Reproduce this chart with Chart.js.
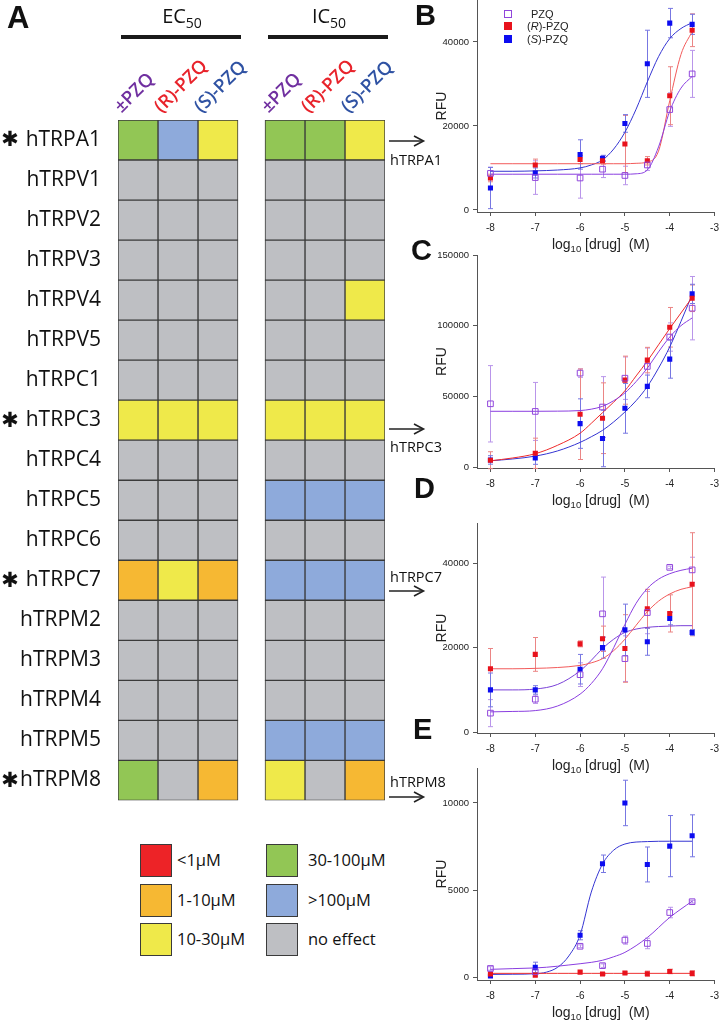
<!DOCTYPE html>
<html><head><meta charset="utf-8">
<script src="https://cdn.jsdelivr.net/npm/chart.js@4.4.1/dist/chart.umd.min.js"></script>
<style>
html,body{margin:0;padding:0;background:#fff;}
body{width:725px;height:1022px;position:relative;overflow:hidden;font-family:"Open Sans",sans-serif;color:#111;}
.abs{position:absolute;white-space:nowrap;}
canvas{position:absolute;}
</style></head><body>
<script>
// ---------- Heatmap data (panel A) ----------
const GENES = ['hTRPA1','hTRPV1','hTRPV2','hTRPV3','hTRPV4','hTRPV5','hTRPC1','hTRPC3','hTRPC4','hTRPC5','hTRPC6','hTRPC7','hTRPM2','hTRPM3','hTRPM4','hTRPM5','hTRPM8'];
const STARRED = ['hTRPA1','hTRPC3','hTRPC7','hTRPM8'];
const LEVELS = ['<1μM','1-10μM','10-30μM','30-100μM','>100μM','no effect'];
const LEVEL_COLORS = ['#ed2327','#f6b833','#efe94a','#92c655','#8eaadb','#bebfc3'];
const GROUPS = ['EC', 'IC'];
const COMPOUNDS = ['±PZQ','(R)-PZQ','(S)-PZQ'];
const COMPOUND_COLORS = ['#7030a0','#e8232b','#2f52a3'];
const N = 5; // "no effect"
const EC_RAC = [3,N,N,N,N,N,N,2,N,N,N,1,N,N,N,N,3];
const EC_R   = [4,N,N,N,N,N,N,2,N,N,N,2,N,N,N,N,N];
const EC_S   = [2,N,N,N,N,N,N,2,N,N,N,1,N,N,N,N,1];
const IC_RAC = [3,N,N,N,N,N,N,2,N,4,N,4,N,N,N,4,2];
const IC_R   = [3,N,N,N,N,N,N,2,N,4,N,4,N,N,N,4,N];
const IC_S   = [2,N,N,N,2,N,N,2,N,4,N,4,N,N,N,4,1];
const ARROW_TARGETS = ['hTRPA1','hTRPC3','hTRPC7','hTRPM8'];

// ---------- Dose-response data (panels B-E) ----------
const DOSES = [-8,-7,-6,-5.5,-5,-4.5,-4,-3.5];
const X_TICKS = [-8,-7,-6,-5,-4,-3];
const CURVE_X = [-8,-7.5,-7,-6.5,-6,-5.75,-5.5,-5.25,-5,-4.75,-4.5,-4.25,-4,-3.75,-3.5];
const E_CURVE_X = [-8,-7.5,-7,-6.75,-6.5,-6.25,-6,-5.75,-5.5,-5.25,-5,-4.5,-4,-3.5];

// B: hTRPA1
const B_PZQ = [8700,7700,7600,9700,8200,10700,23900,32400];
const B_PZQ_ERR = [1500,4000,4800,2000,2200,1300,4000,5600];
const B_R = [7600,10700,12000,11700,15700,11700,27200,42800];
const B_R_ERR = [900,1400,1000,800,6800,1000,6900,3900];
const B_S = [5200,8800,13200,12300,20600,34800,44500,44200];
const B_S_ERR = [4900,1200,3500,700,2100,8000,3500,2400];
const B_PZQ_FIT = [8500,8500,8500,8500,8500,8500,8500,8500,8500,8600,9500,15000,23500,29000,31800];
const B_R_FIT = [11000,11000,11000,11000,11000,11000,11000,11000,11000,11100,11400,14000,26000,37000,42500];
const B_S_FIT = [9200,9200,9300,9500,10000,10700,11900,14500,18500,24000,30500,36500,40800,43200,44600];
const B_Y_TICKS = [0,20000,40000];

// C: hTRPC3
const C_PZQ = [44800,39400,66500,42500,62900,71200,92000,112400];
const C_PZQ_ERR = [27000,20500,3000,21500,15000,13000,10000,22400];
const C_R = [4900,9800,37400,34600,61500,75700,98900,119400];
const C_R_ERR = [6000,10700,32000,25000,17000,9000,14000,9400];
const C_S = [5100,6500,30800,20300,41600,57100,76400,122500];
const C_S_ERR = [3000,4500,17500,20000,17600,8000,13500,6800];
const C_PZQ_FIT = [39500,39500,39500,39600,40000,41000,43000,47000,52500,60500,70000,81500,92000,100000,105500];
const C_R_FIT = [4500,6500,9500,15500,24000,31000,38500,46000,54000,64500,75000,86500,98000,109000,120000];
const C_S_FIT = [4500,5800,7800,11500,17500,21500,26000,32000,39000,47000,57000,70000,85000,103000,122000];
const C_Y_TICKS = [0,50000,100000,150000];

// D: hTRPC7
const D_PZQ = [4500,7800,13600,28000,17400,28300,39000,38400];
const D_PZQ_ERR = [3200,1000,2800,8700,5400,5000,300,3000];
const D_R = [15000,18400,20900,22100,19800,29200,28100,35000];
const D_R_ERR = [4800,4000,700,3000,8000,4600,4400,12200];
const D_S = [10000,10000,14900,20000,24200,21400,26900,23600];
const D_S_ERR = [4000,1000,3500,2500,6100,3200,1500,700];
const D_PZQ_FIT = [4800,4900,5100,6200,9000,11500,15000,20000,25500,30500,34000,36200,37500,38300,38800];
const D_R_FIT = [15000,15000,15100,15300,15800,16400,17400,19300,22000,25300,28500,31000,32700,33800,34400];
const D_S_FIT = [10000,10000,10200,11300,14500,17000,19800,22000,23600,24400,24800,25000,25100,25200,25200];
const D_Y_TICKS = [0,20000,40000];

// E: hTRPM8
const E_PZQ = [530,340,1800,690,2150,1960,3730,4350];
const E_PZQ_ERR = [100,80,80,100,230,300,300,80];
const E_R = [210,150,320,210,270,230,360,250];
const E_R_ERR = [60,60,60,50,60,150,130,150];
const E_S = [95,590,2430,6520,10000,6480,7530,8120];
const E_S_ERR = [60,300,260,500,1300,1000,1750,1200];
const E_PZQ_FIT = [480,520,560,600,660,730,800,880,1000,1200,1450,2300,3450,4380];
const E_R_FIT = [250,250,250,250,250,250,250,250,250,250,250,250,250,250];
const E_S_FIT = [190,200,230,320,600,1250,2450,4900,6500,7300,7650,7790,7810,7810];
const E_Y_TICKS = [0,5000,10000];

const SERIES_NAMES = ['PZQ','(R)-PZQ','(S)-PZQ'];
</script>
<script>
// ---------- styles ----------
const C_PURPLE = '#9146dc', C_PURPLE_LINE = '#8a3ee0', C_PURPLE_ERR = '#b995ea';
const C_RED = '#e8121c', C_RED_LINE = '#f25a5a', C_RED_ERR = '#eb8585';
const C_BLUE = '#0c0cf0', C_BLUE_LINE = '#3434d2', C_BLUE_ERR = '#7777e2';

function el(tag, css, html){ const e=document.createElement(tag); e.className='abs'; Object.assign(e.style,css); if(html!==undefined) e.innerHTML=html; document.body.appendChild(e); return e; }

// ---------- Heatmap chart ----------
const COLUMNS = [EC_RAC, EC_R, EC_S, IC_RAC, IC_R, IC_S];
const GROUP_GAP = 0.675;
const colStart = (c) => Math.floor(c/3)*(3+GROUP_GAP) + (c%3);

const hm = document.createElement('canvas');
hm.width = 392; hm.height = 830; hm.style.left='0px'; hm.style.top='0px';
document.body.appendChild(hm);

const asteriskPlugin = {
  id:'asterisks',
  afterDraw(chart){
    const ctx=chart.ctx, ys=chart.scales.y;
    ctx.save(); ctx.fillStyle='#111'; ctx.font='bold 21px "DejaVu Sans"'; ctx.textAlign='center'; ctx.textBaseline='middle';
    STARRED.forEach(g=>{ const y=ys.getPixelForValue(GENES.indexOf(g)); ctx.fillText('✱', 10, y+1); });
    ctx.restore();
  }
};

const heat = new Chart(hm, {
  type:'bar',
  data:{ labels:GENES, datasets: COLUMNS.map((col,c)=>({
    data: col.map(()=>[colStart(c), colStart(c)+1]),
    backgroundColor: col.map(v=>LEVEL_COLORS[v]),
    borderColor:'#3a3a3a', borderWidth:1, borderSkipped:false,
    grouped:false, barPercentage:1, categoryPercentage:1
  }))},
  options:{
    indexAxis:'y', responsive:false, animation:false, events:[],
    layout:{padding:{top:120,bottom:13,right:7,left:0}},
    plugins:{legend:{display:false},tooltip:{enabled:false}},
    scales:{
      x:{type:'linear',min:0,max:2*3+GROUP_GAP,display:false},
      y:{type:'category',grid:{display:false,drawTicks:false},border:{display:false},
         ticks:{font:{family:'Open Sans',size:21},color:'#111',padding:17},
         afterFit:s=>{s.width=118;}}
    }
  },
  plugins:[asteriskPlugin]
});

// Panel A headings
el('div',{left:'7px',top:'2px',font:'bold 31px "Liberation Sans"',lineHeight:'1'},'A');
const xs = heat.scales.x;
GROUPS.forEach((g,gi)=>{
  const l = xs.getPixelForValue(colStart(gi*3)), r = xs.getPixelForValue(colStart(gi*3+2)+1);
  el('div',{left:(l+3)+'px',width:(r-l)+'px',top:'35px',height:'4px',background:'#1a1a1a'});
  el('div',{left:(l+4)+'px',width:(r-l)+'px',top:'6px',textAlign:'center',font:'20px "Open Sans"',lineHeight:'1'},
     g+'<span style="font-size:14px;position:relative;top:5px;">50</span>');
  COMPOUNDS.forEach((cname,k)=>{
    const x = xs.getPixelForValue(colStart(gi*3+k));
    el('span',{left:(x+5)+'px',top:'97px',font:'600 18.5px "Open Sans"',lineHeight:'18px',color:COMPOUND_COLORS[k],
      transformOrigin:'0 100%',transform:'rotate(-45deg)'},cname);
  });
});

// Heatmap legend
LEVELS.forEach((lab,i)=>{
  const col=Math.floor(i/3), row=i%3;
  const bx = col? 266:140, by=[844,884,923][row];
  el('div',{left:bx+'px',top:by+'px',width:'30px',height:'31px',background:LEVEL_COLORS[i],border:'1px solid #3a3a3a'});
  el('div',{left:(bx+(col?42:37))+'px',top:(by+6)+'px',font:'16.5px "Open Sans"',lineHeight:'20px'},lab);
});

// Arrows linking heatmap rows to panels
const ARROW_Y = {hTRPA1:[141,160],hTRPC3:[429,447],hTRPC7:[591,577],hTRPM8:[797,782]};
let svg = '<svg xmlns="http://www.w3.org/2000/svg" width="725" height="1022" style="position:absolute;left:0;top:0">';
ARROW_TARGETS.forEach(g=>{
  const [ay]=ARROW_Y[g];
  svg += `<line x1="389" y1="${ay}" x2="423" y2="${ay}" stroke="#222" stroke-width="1.6"/>`+
         `<polyline points="414,${ay-5} 423.5,${ay} 414,${ay+5}" fill="none" stroke="#222" stroke-width="1.6"/>`;
});
svg += '</svg>';
document.body.insertAdjacentHTML('beforeend', svg);
ARROW_TARGETS.forEach(g=>{
  const ty=ARROW_Y[g][1];
  el('div',{left:'390px',top:(ty-10)+'px',font:'14.5px "Open Sans"',lineHeight:'20px'},g);
});

// ---------- Dose-response panels ----------
const errorBarPlugin = {
  id:'errorBars',
  beforeDatasetsDraw(chart){
    const ctx=chart.ctx, ys=chart.scales.y;
    chart.data.datasets.forEach((ds,i)=>{
      if(!ds.errors) return;
      const meta=chart.getDatasetMeta(i);
      ctx.save(); ctx.strokeStyle=ds.errorColor; ctx.lineWidth=1;
      meta.data.forEach((pt,j)=>{
        const v=ds.data[j].y, e=ds.errors[j];
        const x=Math.round(pt.x)+0.5, y1=ys.getPixelForValue(v+e), y2=ys.getPixelForValue(v-e);
        ctx.beginPath(); ctx.moveTo(x,y1); ctx.lineTo(x,y2);
        ctx.moveTo(x-2.5,y1); ctx.lineTo(x+2.5,y1); ctx.moveTo(x-2.5,y2); ctx.lineTo(x+2.5,y2);
        ctx.stroke();
      });
      ctx.restore();
    });
  }
};
const xTitlePlugin = {
  id:'xTitle',
  afterDraw(chart){
    const {ctx, chartArea} = chart;
    const y = chartArea.bottom + 33;
    ctx.save(); ctx.fillStyle='#222'; ctx.textBaseline='middle'; ctx.textAlign='left';
    const f1='14px "Liberation Sans"', f2='9.5px "Liberation Sans"';
    const parts=[['log',f1,0],['10',f2,4],[' [drug]  (M)',f1,0]];
    let w=0; parts.forEach(p=>{ctx.font=p[1]; w+=ctx.measureText(p[0]).width;});
    let x=(chartArea.left+chartArea.right)/2 + 5 - w/2;
    parts.forEach(p=>{ctx.font=p[1]; ctx.fillText(p[0],x,y+p[2]); x+=ctx.measureText(p[0]).width;});
    ctx.restore();
  }
};

function buildPanel(cfg){
  const cv=document.createElement('canvas');
  const top=cfg.chartTop-12, h=Math.round(cfg.chartBottom-top+42);
  cv.width=295; cv.height=h; cv.style.left='430px'; cv.style.top=top+'px';
  document.body.appendChild(cv);
  const pts=(ys)=>DOSES.map((x,i)=>({x,y:ys[i]}));
  const crv=(xs,ys)=>xs.map((x,i)=>({x,y:ys[i]}));
  const datasets=[];
  cfg.series.forEach(s=>datasets.push({type:'scatter',data:pts(s.values),errors:s.errors,errorColor:s.errColor,
    pointStyle:'rect',pointRadius:s.hollow?4:3.6,backgroundColor:s.hollow?'rgba(255,255,255,0)':s.color,
    borderColor:s.color,borderWidth:s.hollow?1:0}));
  cfg.fits.forEach(f=>datasets.push({type:'line',data:crv(f.x,f.values),borderColor:f.color,borderWidth:1,
    pointRadius:0,cubicInterpolationMode:'monotone',fill:false}));
  return new Chart(cv,{type:'scatter',data:{datasets},options:{
    responsive:false, animation:false, events:[],
    layout:{padding:{top:12,right:5,left:0,bottom:0}},
    plugins:{legend:{display:false},tooltip:{enabled:false}},
    scales:{
      x:{type:'linear',min:-8.3,max:-3,
         afterBuildTicks:s=>{s.ticks=X_TICKS.map(v=>({value:v}));},
         afterFit:s=>{s.height=42;},
         grid:{drawOnChartArea:false,drawTicks:true,tickLength:4,color:'#555'},
         border:{color:'#555',width:1},
         ticks:{font:{family:'Liberation Sans',size:10},color:'#222',padding:6,maxRotation:0,callback:v=>String(v)}},
      y:{type:'linear',min:cfg.yMin,max:cfg.yMax,
         afterBuildTicks:s=>{s.ticks=cfg.yTicks.map(v=>({value:v}));},
         afterFit:s=>{s.width=47;},
         grid:{drawOnChartArea:false,drawTicks:true,tickLength:4,color:'#555'},
         border:{color:'#555',width:1},
         ticks:{font:{family:'Liberation Sans',size:9.5},color:'#222',padding:4,callback:v=>String(v)},
         title:{display:true,text:'RFU',font:{family:'Liberation Sans',size:14},color:'#222',padding:{top:4,bottom:0}}}
    }
  },plugins:[errorBarPlugin,xTitlePlugin]});
}

function seriesSet(p,pe,r,re,s,se){
  return [
    {values:p,errors:pe,color:C_PURPLE,errColor:C_PURPLE_ERR,hollow:true},
    {values:r,errors:re,color:C_RED,errColor:C_RED_ERR},
    {values:s,errors:se,color:C_BLUE,errColor:C_BLUE_ERR}
  ];
}

buildPanel({chartTop:0,chartBottom:211.5,yMin:-500,yMax:50000,yTicks:B_Y_TICKS,
  series:seriesSet(B_PZQ,B_PZQ_ERR,B_R,B_R_ERR,B_S,B_S_ERR),
  fits:[{x:CURVE_X,values:B_PZQ_FIT,color:C_PURPLE_LINE},{x:CURVE_X,values:B_R_FIT,color:C_RED_LINE},{x:CURVE_X,values:B_S_FIT,color:C_BLUE_LINE}]});
buildPanel({chartTop:255,chartBottom:468.3,yMin:-600,yMax:150000,yTicks:C_Y_TICKS,
  series:seriesSet(C_PZQ,C_PZQ_ERR,C_R,C_R_ERR,C_S,C_S_ERR),
  fits:[{x:CURVE_X,values:C_PZQ_FIT,color:C_PURPLE_LINE},{x:CURVE_X,values:C_R_FIT,color:'#ee2a2a'},{x:CURVE_X,values:C_S_FIT,color:C_BLUE_LINE}]});
buildPanel({chartTop:523,chartBottom:733,yMin:-200,yMax:49500,yTicks:D_Y_TICKS,
  series:seriesSet(D_PZQ,D_PZQ_ERR,D_R,D_R_ERR,D_S,D_S_ERR),
  fits:[{x:CURVE_X,values:D_PZQ_FIT,color:C_PURPLE_LINE},{x:CURVE_X,values:D_R_FIT,color:C_RED_LINE},{x:CURVE_X,values:D_S_FIT,color:'#7a40d8'}]});
buildPanel({chartTop:768,chartBottom:980,yMin:-130,yMax:12000,yTicks:E_Y_TICKS,
  series:seriesSet(E_PZQ,E_PZQ_ERR,E_R,E_R_ERR,E_S,E_S_ERR),
  fits:[{x:E_CURVE_X,values:E_PZQ_FIT,color:C_PURPLE_LINE},{x:E_CURVE_X,values:E_R_FIT,color:'#ee3030'},{x:E_CURVE_X,values:E_S_FIT,color:C_BLUE_LINE}]});

// Panel letters
[['B',415,1],['C',411,236],['D',414,474],['E',413,715]].forEach(([t,x,y])=>
  el('div',{left:x+'px',top:y+'px',font:'bold 29px "Liberation Sans"',lineHeight:'1'},t));

// Legend of panel B
const LEG_STYLE=[{c:C_PURPLE,hollow:true},{c:C_RED},{c:C_BLUE}];
SERIES_NAMES.forEach((name,i)=>{
  const cy=[14,26,39][i], st=LEG_STYLE[i];
  el('div',{left:'504px',top:(cy-4)+'px',width:st.hollow?'6px':'8px',height:st.hollow?'6px':'8px',
     background:st.hollow?'transparent':st.c,border:st.hollow?('1px solid '+st.c):'none'});
  const html = name.replace(/^\((R|S)\)/,'(<i>$1</i>)');
  el('div',{left:(i===0?531:527)+'px',top:(cy-7)+'px',font:'11px "Liberation Sans"',lineHeight:'14px',color:'#222'},html);
});
</script>
</body></html>
